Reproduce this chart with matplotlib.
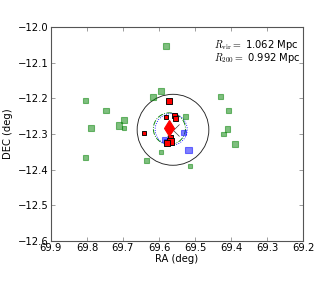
import matplotlib
matplotlib.use('Agg')
import matplotlib.pyplot as plt
import matplotlib.patches as patches

plt.rcParams['mathtext.fontset'] = 'cm'

# ----------------------------------------
# Galaxy positions (RA, DEC in deg) and marker sizes
# ----------------------------------------
green_ra = [69.580, 69.803, 69.747, 69.696, 69.710, 69.697, 69.788, 69.803,
            69.594, 69.617, 69.594, 69.635, 69.429, 69.406, 69.410, 69.421,
            69.388, 69.514, 69.525]
green_dec = [-12.053, -12.206, -12.235, -12.261, -12.276, -12.283, -12.284, -12.366,
             -12.179, -12.196, -12.350, -12.374, -12.195, -12.234, -12.286, -12.300,
             -12.328, -12.389, -12.250]
green_size = [30, 22, 22, 30, 30, 14, 30, 22,
              30, 30, 16, 16, 18, 22, 22, 16,
              30, 16, 20]

blue_ra = [69.531, 69.518, 69.585, 69.578]
blue_dec = [-12.295, -12.344, -12.315, -12.322]
blue_size = [22, 34, 24, 24]

red_ra = [69.571, 69.580, 69.557, 69.553, 69.642, 69.567, 69.569, 69.577]
red_dec = [-12.208, -12.252, -12.249, -12.257, -12.297, -12.309, -12.321, -12.326]
red_size = [30, 14, 22, 22, 16, 22, 38, 30]

# centres and radii
bcg_ra, bcg_dec = 69.572, -12.282
cen_ra, cen_dec = 69.561, -12.288
r_vir_deg = 0.0995
r_inner_deg = 0.0445
r_vir_mpc = 1.062
r200_mpc = 0.992

fig = plt.figure(figsize=(4, 3.6), dpi=80)
ax = fig.add_axes([0.159, 0.163, 0.788, 0.743])

ax.scatter(green_ra, green_dec, s=green_size, marker='s', c='g', edgecolors='g',
           alpha=0.5, linewidths=1, zorder=2)
ax.scatter(blue_ra, blue_dec, s=blue_size, marker='s', c='b', edgecolors='b',
           alpha=0.5, linewidths=1, zorder=3)
ax.scatter(red_ra, red_dec, s=red_size, marker='s', c='r', edgecolors='k',
           linewidths=0.8, zorder=4)

ax.plot(cen_ra, cen_dec, 'x', color='#333333', ms=10, mew=0.6, zorder=4.5)
ax.plot(bcg_ra, bcg_dec, 'd', color='r', mec='r', ms=10, zorder=5)

# Circles
ax.add_patch(patches.Circle((cen_ra, cen_dec), r_vir_deg, fill=False, ec='#222222', lw=0.8, zorder=1))
ax.add_patch(patches.Circle((69.571, -12.285), r_inner_deg, fill=False, ec='g',
                            ls='-.', lw=0.8, zorder=1))
ax.add_patch(patches.Circle((69.566, -12.287), r_inner_deg, fill=False, ec='b',
                            ls=':', lw=0.8, zorder=1))

ax.text(0.645, 0.915, r'$R_{\rm vir} = $ %.3f Mpc' % r_vir_mpc, transform=ax.transAxes,
        fontsize=9, va='center')
ax.text(0.645, 0.855, r'$R_{200} = $ %.3f Mpc' % r200_mpc, transform=ax.transAxes,
        fontsize=9, va='center')

ax.set_xlim(69.9, 69.2)
ax.set_ylim(-12.6, -12.0)
ax.set_xticks([69.9, 69.8, 69.7, 69.6, 69.5, 69.4, 69.3, 69.2])
ax.set_yticks([-12.6, -12.5, -12.4, -12.3, -12.2, -12.1, -12.0])
ax.set_xlabel('RA (deg)', fontsize=9, labelpad=1)
ax.set_ylabel('DEC (deg)', fontsize=9, labelpad=4)
ax.tick_params(direction='in', top=True, right=True, length=4, width=0.5,
               color='#555555', labelsize=9, pad=2)
for sp in ax.spines.values():
    sp.set_color('#555555')
    sp.set_linewidth(1)

plt.savefig('out.png', dpi=80)
plt.close()
